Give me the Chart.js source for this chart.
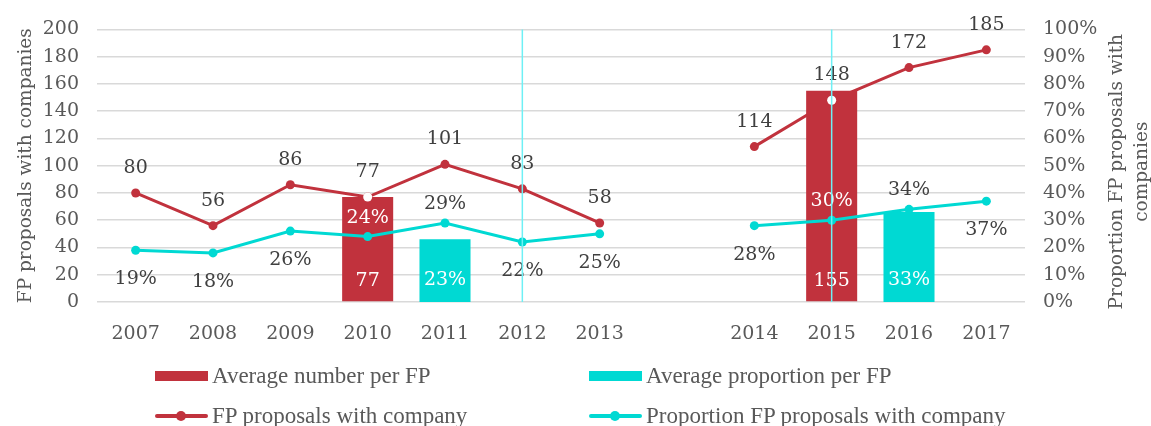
<!DOCTYPE html>
<html>
<head>
<meta charset="utf-8">
<title>FP proposals with companies</title>
<script src="https://cdn.jsdelivr.net/npm/chart.js@4.4.1/dist/chart.umd.min.js"></script>
<style>
    html, body { margin: 0; padding: 0; background: #fff; }
    #wrap { position: relative; width: 1151px; height: 426px; }
    #chart { position: absolute; left: 0; top: 0; }
    .legend-item {
        position: absolute;
        height: 30px;
        display: flex;
        align-items: center;
        white-space: nowrap;
    }
    .legend-item .sym { position: relative; width: 53px; height: 10px; flex: none; }
    .legend-item .txt {
        margin-left: 4px;
        font-family: 'Liberation Serif', serif;
        font-size: 23px;
        color: #595959;
    }
</style>
</head>
<body>
<div id="wrap">
    <canvas id="chart" width="1151" height="426"></canvas>
    <div id="legend"></div>
</div>
<script>
    'use strict';

    // --- data ---
    const years = ['2007', '2008', '2009', '2010', '2011', '2012', '2013', '', '2014', '2015', '2016', '2017'];
    const fpProposals = [80, 56, 86, 77, 101, 83, 58, null, 114, 148, 172, 185];
    const fpProportion = [19, 18, 26, 24, 29, 22, 25, null, 28, 30, 34, 37];       // %
    const avgNumber = [null, null, null, 77, null, null, null, null, null, 155, null, null];
    const avgProportion = [null, null, null, null, 23, null, null, null, null, null, 33, null]; // %
    const markedYears = ['2012', '2015'];

    const RED = '#C1323D';
    const CYAN = '#00D9D3';
    const MARK = '#6EF0F5';
    const TEXT = '#404040';
    const AXIS_TEXT = '#595959';
    const SERIF = "'DejaVu Serif', serif";

    // where the proportion labels sit relative to their point
    const proportionLabelPos = ['below', 'below', 'below', 'above', 'above', 'below', 'below', null, 'below', 'above', 'above', 'below'];

    // is pixel (index i, y) inside a drawn bar?
    function insideBar(chart, i, y) {
        return chart.data.datasets.some((ds, di) => {
            if (ds.type !== 'bar' || ds.data[i] == null) return false;
            const el = chart.getDatasetMeta(di).data[i];
            return y > el.y && y < el.base;
        });
    }

    const valueLabels = {
        id: 'valueLabels',
        afterDatasetsDraw(chart) {
            const ctx = chart.ctx;
            ctx.save();
            ctx.font = '19px ' + SERIF;
            ctx.textAlign = 'center';
            ctx.textBaseline = 'middle';
            chart.data.datasets.forEach((ds, di) => {
                const cfg = ds.valueLabel;
                if (!cfg) return;
                chart.getDatasetMeta(di).data.forEach((el, i) => {
                    const v = ds.data[i];
                    if (v == null) return;
                    const pos = Array.isArray(cfg.pos) ? cfg.pos[i] : cfg.pos;
                    let y;
                    if (pos === 'base') y = el.base + cfg.offset;
                    else if (pos === 'above') y = el.y - cfg.above;
                    else y = el.y + cfg.below;
                    ctx.fillStyle = insideBar(chart, i, y) ? '#fff' : TEXT;
                    ctx.fillText(v + (cfg.suffix || ''), el.x, y);
                });
            });
            ctx.restore();
        }
    };

    // thin cyan verticals through some years, on top of everything
    const yearMarkers = {
        id: 'yearMarkers',
        afterDatasetsDraw(chart) {
            const {ctx, chartArea, scales} = chart;
            ctx.save();
            ctx.strokeStyle = MARK;
            ctx.lineWidth = 1.5;
            markedYears.forEach(yr => {
                const x = scales.x.getPixelForValue(years.indexOf(yr));
                ctx.beginPath();
                ctx.moveTo(x, chartArea.top);
                ctx.lineTo(x, chartArea.bottom);
                ctx.stroke();
            });
            ctx.restore();
        }
    };

    // right axis title reads bottom-to-top like the left one
    const rightTitle = {
        id: 'rightTitle',
        afterDraw(chart) {
            const ctx = chart.ctx;
            const lines = ['Proportion FP proposals with', 'companies'];
            const xs = [1117, 1142];
            const cy = (chart.chartArea.top + chart.chartArea.bottom) / 2 + 6;
            ctx.save();
            ctx.font = '18.5px ' + SERIF;
            ctx.fillStyle = AXIS_TEXT;
            ctx.textAlign = 'center';
            ctx.textBaseline = 'middle';
            lines.forEach((t, k) => {
                ctx.save();
                ctx.translate(xs[k], cy);
                ctx.rotate(-Math.PI / 2);
                ctx.fillText(t, 0, 0);
                ctx.restore();
            });
            ctx.restore();
        }
    };

    const htmlLegend = {
        id: 'htmlLegend',
        afterUpdate(chart) {
            const box = document.getElementById('legend');
            box.innerHTML = '';
            const cols = [155, 589];
            const rows = [376, 416];
            chart.data.datasets.filter(ds => ds.inLegend).forEach((ds, k) => {
                const item = document.createElement('div');
                item.className = 'legend-item';
                item.style.left = cols[k % 2] + 'px';
                item.style.top = (rows[Math.floor(k / 2)] - 15) + 'px';
                const sym = document.createElement('span');
                sym.className = 'sym';
                if (ds.type === 'bar') {
                    sym.style.background = ds.backgroundColor;
                } else {
                    sym.innerHTML =
                        '<span style="position:absolute;left:0;top:3px;width:53px;height:4px;border-radius:2px;background:' + ds.borderColor + '"></span>' +
                        '<span style="position:absolute;left:21px;top:0;width:10px;height:10px;border-radius:50%;background:' + ds.borderColor + '"></span>';
                }
                const txt = document.createElement('span');
                txt.className = 'txt';
                txt.textContent = ds.label;
                item.appendChild(sym);
                item.appendChild(txt);
                box.appendChild(item);
            });
        }
    };

    const datasets = [
        {
            type: 'bar',
            label: 'Average number per FP',
            inLegend: true,
            data: avgNumber,
            yAxisID: 'y',
            backgroundColor: RED,
            grouped: false,
            barPercentage: 0.66,
            categoryPercentage: 1,
            order: 2,
            valueLabel: {pos: 'base', offset: -20}
        },
        {
            type: 'bar',
            label: 'Average proportion per FP',
            inLegend: true,
            data: avgProportion,
            yAxisID: 'y1',
            backgroundColor: CYAN,
            grouped: false,
            barPercentage: 0.66,
            categoryPercentage: 1,
            order: 2,
            valueLabel: {pos: 'base', offset: -22, suffix: '%'}
        },
        {
            type: 'line',
            label: 'FP proposals with company',
            inLegend: true,
            data: fpProposals,
            yAxisID: 'y',
            borderColor: RED,
            backgroundColor: RED,
            borderWidth: 3,
            pointRadius: 4.5,
            pointBackgroundColor: RED,
            pointBorderWidth: 0,
            spanGaps: false,
            order: 3,
            valueLabel: {pos: 'above', above: 25, below: 29}
        },
        {
            type: 'line',
            label: 'Proportion FP proposals with company',
            inLegend: true,
            data: fpProportion,
            yAxisID: 'y1',
            borderColor: CYAN,
            backgroundColor: CYAN,
            borderWidth: 3,
            pointRadius: 4.5,
            pointBackgroundColor: CYAN,
            pointBorderWidth: 0,
            spanGaps: false,
            order: 1,
            valueLabel: {pos: proportionLabelPos, above: 19, below: 29, suffix: '%'}
        },
        {
            // white markers where the red line runs behind a bar
            type: 'line',
            label: '_highlight',
            data: fpProposals.map((v, i) => avgNumber[i] != null ? v : null),
            yAxisID: 'y',
            showLine: false,
            pointRadius: 4.5,
            pointBackgroundColor: '#fff',
            pointBorderWidth: 0,
            order: 0
        }
    ];

    new Chart(document.getElementById('chart'), {
        data: {labels: years, datasets: datasets},
        options: {
            responsive: false,
            animation: false,
            layout: {padding: {top: 24, left: 0, right: 0, bottom: 0}},
            plugins: {
                legend: {display: false},
                tooltip: {enabled: false}
            },
            scales: {
                x: {
                    offset: true,
                    grid: {display: false},
                    border: {display: false},
                    ticks: {color: AXIS_TEXT, font: {family: SERIF, size: 19}, padding: 13, maxRotation: 0, autoSkip: false},
                    afterFit: s => { s.height = 124; }
                },
                y: {
                    position: 'left',
                    min: 0,
                    max: 200,
                    ticks: {stepSize: 20, color: AXIS_TEXT, font: {family: SERIF, size: 19}, padding: 18},
                    grid: {color: '#D9D9D9', lineWidth: 1.6, drawTicks: false},
                    border: {display: false},
                    title: {
                        display: true,
                        text: 'FP proposals with companies',
                        color: AXIS_TEXT,
                        font: {family: SERIF, size: 18.5},
                        padding: {top: 15, bottom: 0}
                    },
                    afterFit: s => { s.width = 97; }
                },
                y1: {
                    position: 'right',
                    min: 0,
                    max: 100,
                    ticks: {stepSize: 10, color: AXIS_TEXT, font: {family: SERIF, size: 19}, padding: 18, callback: v => v + '%'},
                    grid: {display: false, drawTicks: false},
                    border: {display: false},
                    afterFit: s => { s.width = 126; }
                }
            }
        },
        plugins: [valueLabels, yearMarkers, rightTitle, htmlLegend]
    });
</script>
</body>
</html>
